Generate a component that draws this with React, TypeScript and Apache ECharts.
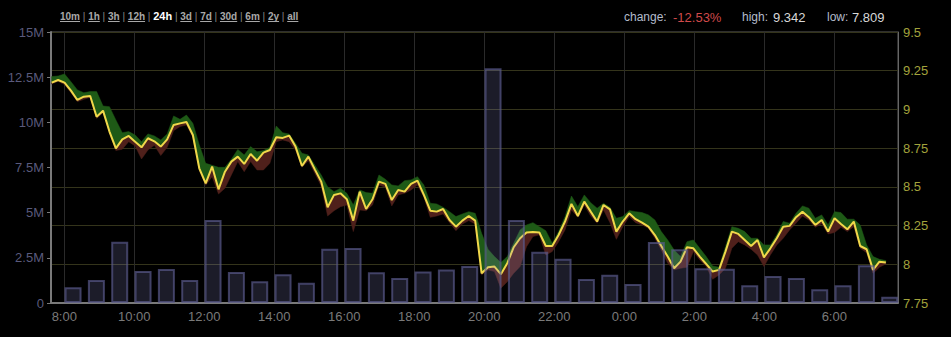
import React, { useEffect, useRef } from 'react';
import * as echarts from 'echarts';

// ---- texts ----
const rangeLinks = ['10m', '1h', '3h', '12h', '24h', '3d', '7d', '30d', '6m', '2y', 'all'];
const activeRange = '24h';
const statLabels = ['change:', 'high:', 'low:'];
const statValues = ['-12.53%', '9.342', '7.809'];

// ---- x axis (hours since midnight of day 1) ----
const xMinHour = 7.62;
const xMaxHour = 31.82;
const xTickHours = [8, 10, 12, 14, 16, 18, 20, 22, 24, 26, 28, 30];

// ---- price series (right axis) ----
const priceStartHour = 7.64;
const priceStepHours = 11 / 60;
const price = [
  9.173, 9.190, 9.173, 9.121, 9.061, 9.082, 9.087, 8.953, 8.992, 8.857, 8.749, 8.807, 8.829, 8.792, 8.755, 8.814, 8.794,
  8.760, 8.807, 8.900, 8.910, 8.919, 8.835, 8.620, 8.523, 8.631, 8.484, 8.598, 8.663, 8.695, 8.648, 8.712, 8.669, 8.721,
  8.738, 8.820, 8.816, 8.831, 8.760, 8.635, 8.695, 8.613, 8.534, 8.368, 8.448, 8.458, 8.420, 8.282, 8.469, 8.357, 8.420,
  8.534, 8.519, 8.415, 8.480, 8.469, 8.519, 8.540, 8.448, 8.346, 8.340, 8.357, 8.286, 8.243, 8.282, 8.312, 8.282,
  7.942, 7.981, 7.985, 7.936, 8.007, 8.110, 8.168, 8.205, 8.209, 8.205, 8.118, 8.118, 8.189, 8.276, 8.390, 8.312, 8.405,
  8.340, 8.276, 8.383, 8.355, 8.211, 8.276, 8.329, 8.291, 8.269, 8.243, 8.189, 8.118, 8.050, 7.974, 8.017, 8.110, 8.103,
  8.050, 8.002, 7.953, 7.964, 8.082, 8.211, 8.196, 8.157, 8.118, 8.157, 8.045, 8.103, 8.168, 8.243, 8.248, 8.304, 8.340,
  8.304, 8.254, 8.286, 8.211, 8.297, 8.260, 8.226, 8.276, 8.118, 8.097, 7.964, 8.017, 8.011,
];
const priceHigh = [
  9.212, 9.216, 9.229, 9.179, 9.126, 9.108, 9.115, 9.115, 9.022, 9.018, 8.932, 8.850, 8.857, 8.835, 8.792, 8.842, 8.829,
  8.803, 8.842, 8.958, 8.936, 8.964, 8.910, 8.771, 8.652, 8.639, 8.626, 8.626, 8.678, 8.742, 8.706, 8.760, 8.727, 8.734,
  8.755, 8.893, 8.850, 8.841, 8.781, 8.717, 8.706, 8.641, 8.577, 8.501, 8.469, 8.491, 8.458, 8.383, 8.480, 8.463, 8.458,
  8.577, 8.549, 8.512, 8.506, 8.540, 8.545, 8.566, 8.512, 8.394, 8.390, 8.368, 8.340, 8.308, 8.325, 8.340, 8.329,
  8.200, 8.097, 8.050, 8.011, 8.050, 8.136, 8.222, 8.254, 8.269, 8.243, 8.217, 8.136, 8.211, 8.308, 8.441, 8.372, 8.448,
  8.398, 8.362, 8.394, 8.368, 8.297, 8.308, 8.347, 8.340, 8.334, 8.319, 8.286, 8.211, 8.157, 8.093, 8.050, 8.146, 8.157,
  8.103, 8.050, 7.989, 7.981, 8.114, 8.243, 8.232, 8.211, 8.168, 8.168, 8.125, 8.125, 8.190, 8.276, 8.265, 8.329, 8.377,
  8.362, 8.297, 8.319, 8.254, 8.340, 8.334, 8.291, 8.291, 8.254, 8.125, 8.050, 8.032, 8.024,
];
const priceLow = [
  9.164, 9.182, 9.160, 9.108, 9.050, 9.065, 9.078, 8.941, 8.979, 8.850, 8.734, 8.743, 8.792, 8.764, 8.680, 8.738, 8.768,
  8.702, 8.755, 8.863, 8.889, 8.900, 8.820, 8.605, 8.510, 8.566, 8.454, 8.491, 8.577, 8.663, 8.598, 8.663, 8.609, 8.609,
  8.652, 8.792, 8.803, 8.792, 8.738, 8.626, 8.669, 8.588, 8.506, 8.312, 8.346, 8.372, 8.383, 8.211, 8.351, 8.346, 8.383,
  8.512, 8.497, 8.377, 8.448, 8.458, 8.480, 8.512, 8.433, 8.303, 8.312, 8.325, 8.269, 8.217, 8.260, 8.282, 8.260,
  7.931, 7.964, 7.953, 7.845, 7.888, 7.942, 7.985, 8.114, 8.179, 8.190, 8.060, 8.082, 8.146, 8.222, 8.351, 8.304, 8.383,
  8.312, 8.265, 8.351, 8.269, 8.161, 8.243, 8.308, 8.269, 8.254, 8.232, 8.168, 8.093, 8.007, 7.964, 7.974, 7.981, 8.082,
  8.028, 7.985, 7.903, 7.931, 7.974, 8.103, 8.146, 8.125, 8.097, 8.060, 7.985, 8.060, 8.125, 8.168, 8.222, 8.265, 8.312,
  8.286, 8.239, 8.261, 8.196, 8.205, 8.239, 8.211, 8.243, 8.103, 8.075, 7.942, 7.981, 8.002,
];

// ---- volume bars (left axis, millions) ----
const volStartHour = 8.25;
const volStepHours = 40 / 60;
const volumeM = [
  0.87, 1.27, 3.39, 1.77, 1.88, 1.27, 4.59, 1.72, 1.2, 1.59, 1.12, 3.0, 3.04, 1.7, 1.38, 1.75, 1.86, 2.05,
  13.0, 4.59, 2.84, 2.45, 1.33, 1.57, 1.05, 3.38, 2.97, 1.92, 1.9, 0.98, 1.49, 1.38, 0.76, 0.98, 2.09, 0.35,
];

const FONT = 'Arial, "Liberation Sans", sans-serif';

function measure(text: string, font: string): number {
  const c = document.createElement('canvas').getContext('2d');
  if (!c) return text.length * 6;
  c.font = font;
  return c.measureText(text).width;
}

function buildHeaderGraphics() {
  const els: any[] = [];
  let x = 60;
  const y = 16;
  const linkFont = `bold 10px ${FONT}`;
  const activeFont = `bold 11px ${FONT}`;
  const sepFont = `10px ${FONT}`;
  rangeLinks.forEach((lbl, i) => {
    const active = lbl === activeRange;
    const font = active ? activeFont : linkFont;
    const w = measure(lbl, font);
    els.push({
      type: 'text', x, y,
      style: { text: lbl, fill: active ? '#ffffff' : '#a8a8a8', font, verticalAlign: 'middle', align: 'left' },
    });
    if (!active) {
      els.push({ type: 'line', shape: { x1: x, y1: y + 5.5, x2: x + w, y2: y + 5.5 }, style: { stroke: '#a8a8a8', lineWidth: 1 } });
    }
    x += w;
    if (i < rangeLinks.length - 1) {
      const sep = ' | ';
      els.push({ type: 'text', x, y, style: { text: sep, fill: '#888', font: sepFont, verticalAlign: 'middle', align: 'left' } });
      x += measure(sep, sepFont);
    }
  });
  const labelX = [624, 742, 827];
  const valueX = [673, 773, 852];
  statLabels.forEach((lbl, i) => {
    els.push({ type: 'text', x: labelX[i], y: 17, style: { text: lbl, fill: '#b4bccb', font: `12px ${FONT}`, verticalAlign: 'middle' } });
    els.push({
      type: 'text', x: valueX[i], y: 17,
      style: { text: statValues[i], fill: i === 0 ? '#d04a4a' : '#d8d8d8', font: `13px ${FONT}`, verticalAlign: 'middle' },
    });
  });
  return els;
}

export default function App() {
  const ref = useRef<HTMLDivElement>(null);
  useEffect(() => {
    document.body.style.margin = '0';
    document.body.style.background = '#000';
    if (!ref.current) return;
    const chart = echarts.init(ref.current, undefined, { renderer: 'svg' });
    const priceTimes = price.map((_, i) => priceStartHour + i * priceStepHours);
    const linePts = price.map((p, i) => [priceTimes[i], p]);
    const barPts = volumeM.map((v, i) => [volStartHour + i * volStepHours, v]);

    const band = (edge: number[], color: string) => ({
      type: 'custom',
      xAxisIndex: 0,
      yAxisIndex: 1,
      z: 2,
      silent: true,
      data: [[priceTimes[0], price[0]]],
      encode: { x: 0, y: 1 },
      renderItem: (params: any, api: any) => {
        if (params.dataIndex !== 0) return;
        const pts: number[][] = [];
        for (let i = 0; i < price.length; i++) pts.push(api.coord([priceTimes[i], edge[i]]));
        for (let i = price.length - 1; i >= 0; i--) pts.push(api.coord([priceTimes[i], price[i]]));
        return { type: 'polygon', shape: { points: pts }, style: { fill: color, stroke: color, lineWidth: 0.5 } };
      },
    });

    chart.setOption({
      animation: false,
      backgroundColor: '#000',
      textStyle: { fontFamily: FONT },
      grid: { left: 51, right: 53, top: 32, bottom: 34, show: true, borderColor: '#5c5c5c', borderWidth: 1 },
      xAxis: {
        type: 'value',
        min: xMinHour,
        max: xMaxHour,
        axisLine: { show: true, onZero: false, lineStyle: { color: '#7a7a7a', width: 2 } },
        axisTick: { show: false, customValues: xTickHours },
        axisLabel: {
          customValues: xTickHours,
          color: '#7a7a7a',
          fontSize: 13,
          margin: 7,
          formatter: (v: number) => `${Math.round(v) % 24}:00`,
        },
        splitLine: { show: true, lineStyle: { color: '#2a2a2a', width: 1 } },
      },
      yAxis: [
        {
          type: 'value',
          position: 'left',
          min: 0,
          max: 15,
          interval: 2.5,
          axisLine: { show: true, lineStyle: { color: '#7a7a7a', width: 2 } },
          axisTick: { show: true, length: 4, lineStyle: { color: '#7a7a7a' } },
          axisLabel: {
            color: '#5a5a7c',
            fontSize: 13,
            margin: 7,
            formatter: (v: number) => (v === 0 ? '0' : `${v}M`),
          },
          splitLine: { show: false },
        },
        {
          type: 'value',
          position: 'right',
          min: 7.75,
          max: 9.5,
          interval: 0.25,
          axisLine: { show: true, lineStyle: { color: '#666', width: 1 } },
          axisTick: { show: false },
          axisLabel: { color: '#a3a33c', fontSize: 13, margin: 5 },
          splitLine: { show: true, lineStyle: { color: '#34341b', width: 1 } },
        },
      ],
      graphic: buildHeaderGraphics(),
      series: [
        band(priceHigh, '#1e5a16'),
        band(priceLow, '#4f201b'),
        {
          type: 'line',
          xAxisIndex: 0,
          yAxisIndex: 1,
          z: 3,
          data: linePts,
          showSymbol: false,
          symbol: 'none',
          lineStyle: { color: '#f0d84a', width: 2 },
          silent: true,
        },
        {
          type: 'bar',
          xAxisIndex: 0,
          yAxisIndex: 0,
          z: 4,
          data: barPts,
          barWidth: 17,
          itemStyle: { color: 'rgba(150,150,220,0.19)', borderColor: 'rgba(90,90,140,0.68)', borderWidth: 2 },
          silent: true,
        },
      ],
    });
    return () => chart.dispose();
  }, []);
  return <div ref={ref} style={{ width: 951, height: 337 }} />;
}
